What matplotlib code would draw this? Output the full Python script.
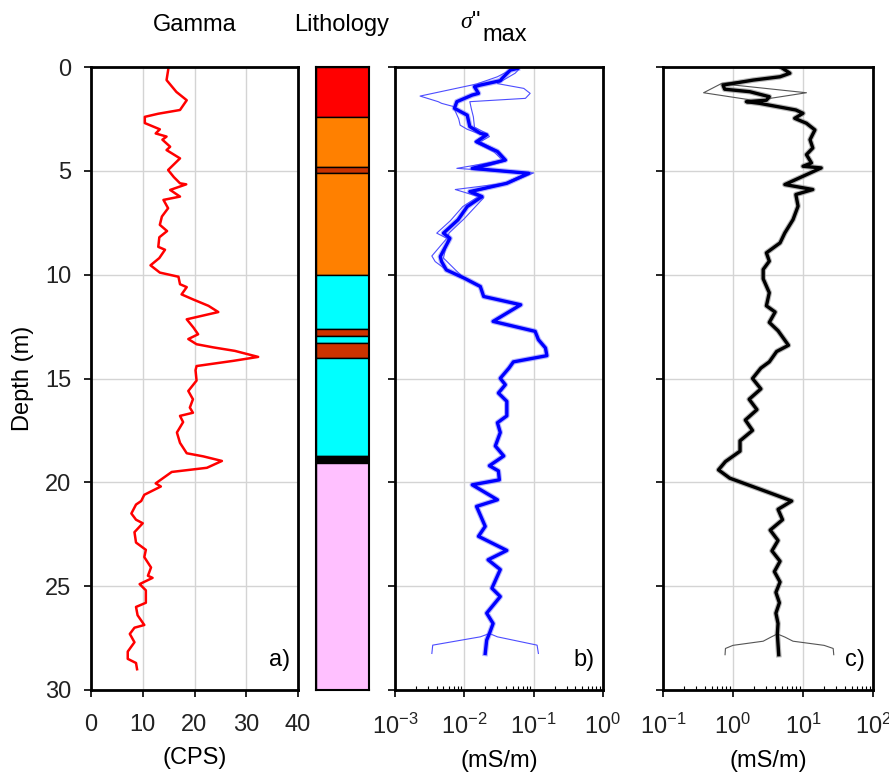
import numpy as np
import matplotlib
matplotlib.use("Agg")
import matplotlib.pyplot as plt
from matplotlib.ticker import LogLocator, NullFormatter, MultipleLocator

plt.rcParams['font.family'] = ['Liberation Sans', 'DejaVu Sans']
plt.rcParams['font.size'] = 17
plt.rcParams['mathtext.fontset'] = 'custom'
plt.rcParams['mathtext.rm'] = 'Liberation Sans'
plt.rcParams['mathtext.it'] = 'Liberation Serif:italic'

# ====== GAMMA LOG (CPS) ======
gamma_depth = [0.0, 0.63, 1.2, 1.6, 2.07, 2.25, 2.4, 2.7, 3.0, 3.2, 3.35, 3.5, 3.84, 4.0,
               4.4, 4.96, 5.3, 5.6, 5.65, 5.92, 6.24, 6.4, 6.8, 7.2, 7.6, 7.9, 8.2, 8.66,
               8.8, 9.2, 9.55, 9.9, 10.1, 10.46, 10.6, 10.95, 11.2, 11.5, 11.8, 12.15,
               12.55, 12.87, 13.1, 13.35, 13.5, 13.67, 13.96, 14.15, 14.4, 14.6, 15.1,
               15.6, 16.0, 16.4, 16.65, 16.8, 17.1, 17.6, 18.1, 18.6, 18.75, 18.97, 19.3,
               19.5, 20.05, 20.2, 20.6, 20.9, 21.07, 21.5, 21.8, 21.97, 22.4, 22.9, 23.25,
               23.6, 24.1, 24.5, 24.6, 24.9, 25.2, 25.8, 26.0, 26.4, 26.87, 27.0, 27.3,
               27.7, 28.15, 28.5, 28.7, 29.0]
gamma_cps = [15.0, 14.6, 16.5, 18.5, 17.2, 13.0, 10.4, 10.4, 13.3, 12.5, 14.6, 13.8, 15.3, 14.6,
             17.2, 14.9, 16.0, 17.2, 18.4, 15.3, 17.2, 14.0, 14.9, 13.7, 13.3, 14.7, 13.2, 13.0,
             14.3, 13.2, 11.5, 13.3, 16.9, 17.2, 18.5, 17.5, 19.8, 22.7, 24.6, 18.5,
             19.8, 20.7, 18.8, 20.4, 23.6, 27.8, 32.3, 27.5, 20.4, 20.2, 20.4,
             18.8, 19.7, 19.1, 19.7, 17.2, 17.8, 16.6, 17.2, 18.5, 21.7, 25.3, 22.4,
             15.6, 12.5, 13.5, 10.3, 9.7, 8.7, 7.8, 8.7, 10.0, 8.4, 8.7, 10.6,
             10.3, 11.6, 11.0, 11.9, 9.4, 10.6, 10.6, 8.7, 9.0, 10.3, 8.4, 7.5,
             8.4, 7.1, 7.1, 8.7, 8.9]

# ====== LITHOLOGY ======
litho_top = [0.0, 2.4, 4.8, 5.1, 10.0, 12.6, 12.95, 13.3, 14.0, 18.75, 19.05]
litho_bottom = [2.4, 4.8, 5.1, 10.0, 12.6, 12.95, 13.3, 14.0, 18.75, 19.05, 30.0]
litho_color = ["#ff0000", "#ff8000", "#c83200", "#ff8000", "#00ffff", "#cc3300",
               "#00ffff", "#cc3300", "#00ffff", "#000000", "#ffc0ff"]

# ====== SIGMA'' MAX (mS/m) ======
sig_depth = [0.07, 0.15, 0.55, 0.66, 0.87, 0.95, 1.27, 1.35, 1.67, 1.99, 2.32, 2.87, 3.19,
             3.27, 3.6, 4.07, 4.48, 4.88, 5.12, 5.6, 6.0, 6.24, 6.72, 7.36, 8.0, 8.25,
             9.13, 9.37, 9.77, 10.17, 10.57, 11.05, 11.45, 12.25, 12.73, 13.13, 13.53,
             13.9, 14.2, 14.5, 14.99, 15.3, 15.7, 16.1, 16.8, 17.13, 17.6, 18.25, 18.73,
             19.2, 19.45, 19.88, 20.12, 20.84, 21.16, 22.12, 22.6, 23.28, 23.73, 24.2,
             25.1, 25.5, 26.3, 26.8, 27.28, 27.6, 28.24]
sig_mean = [0.058, 0.046, 0.035, 0.033, 0.017, 0.014, 0.016, 0.013, 0.0078, 0.0072, 0.011,
            0.012, 0.017, 0.021, 0.015, 0.030, 0.039, 0.013, 0.085, 0.041, 0.012, 0.018,
            0.011, 0.0081, 0.0050, 0.0062, 0.0045, 0.0047, 0.0055, 0.010, 0.017, 0.019,
            0.065, 0.026, 0.105, 0.117, 0.148, 0.155, 0.051, 0.044, 0.033, 0.039, 0.031,
            0.041, 0.041, 0.030, 0.033, 0.028, 0.037, 0.023, 0.031, 0.032, 0.013, 0.030,
            0.015, 0.020, 0.016, 0.041, 0.022, 0.033, 0.025, 0.033, 0.021, 0.026, 0.023,
            0.021, 0.020]

# thin realisations where they split from the mean (top and bottom)
sig_low_top_depth = [0.07, 0.47, 0.82, 1.40, 1.67, 1.75, 1.9, 2.5, 2.8, 3.0, 3.3, 3.6, 4.1,
                     4.5, 4.88, 5.12, 5.6, 5.9, 6.24, 6.72, 7.4, 8.0, 8.25, 9.1, 9.37, 9.77]
sig_low_top = [0.051, 0.030, 0.015, 0.0023, 0.0042, 0.0047, 0.0069, 0.0083, 0.0087, 0.011,
               0.019, 0.014, 0.027, 0.036, 0.0078, 0.079, 0.038, 0.0074, 0.016, 0.0095,
               0.0063, 0.0040, 0.0056, 0.0034, 0.0038, 0.0055]
sig_up_top_depth = [0.07, 0.3, 0.8, 1.03, 1.27, 1.51, 1.67, 2.0, 2.4, 2.9, 3.2, 3.35, 3.6,
                    4.1, 4.5, 4.9, 5.1, 5.6, 6.0, 6.3, 7.3, 8.0, 9.2, 9.8]
sig_up_top = [0.063, 0.054, 0.030, 0.072, 0.089, 0.076, 0.012, 0.0126, 0.0135, 0.014, 0.021,
              0.023, 0.017, 0.032, 0.041, 0.016, 0.10, 0.043, 0.014, 0.019, 0.010, 0.0060,
              0.0050, 0.0076]
sig_flare_depth = [27.28, 27.44, 27.84, 28.24]
sig_low_flare = [0.023, 0.017, 0.0035, 0.0034]
sig_up_flare = [0.023, 0.030, 0.112, 0.117]

# ====== PANEL C (mS/m) ======
c_depth = [0.02, 0.3, 0.47, 0.63, 0.87, 1.07, 1.19, 1.43, 1.6, 1.67, 1.75, 2.07, 2.23,
           2.47, 2.71, 3.03, 3.5, 3.9, 4.22, 4.62, 4.78, 4.86, 5.66, 5.9, 6.14, 6.7,
           7.35, 7.99, 8.47, 8.95, 9.35, 9.75, 10.2, 10.87, 11.5, 11.8, 12.3, 12.7,
           13.4, 13.7, 14.2, 14.5, 15.0, 15.5, 16.0, 16.5, 17.0, 17.5, 18.0, 18.5,
           19.0, 19.4, 19.8, 20.2, 20.6, 20.9, 21.3, 21.8, 22.3, 22.8, 23.3, 23.8,
           24.3, 24.8, 25.3, 25.8, 26.3, 26.8, 27.3, 28.3]
c_mean = [4.9, 6.5, 4.7, 1.95, 0.72, 0.76, 1.74, 3.3, 3.0, 1.55, 2.4, 7.9, 10.0,
          7.6, 11.2, 14.8, 12.6, 13.8, 11.2, 13.2, 10.0, 18.2, 5.5, 13.8, 7.9, 8.5,
          7.2, 5.5, 4.7, 3.0, 3.3, 2.7, 2.7, 3.3, 3.0, 4.0, 3.3, 4.4,
          6.2, 4.2, 3.3, 2.5, 1.9, 2.5, 1.7, 2.2, 1.5, 1.9, 1.26, 1.26,
          0.78, 0.62, 0.9, 1.9, 4.0, 6.9, 4.4, 5.1, 3.4, 4.4, 3.6, 4.7,
          3.9, 4.7, 4.1, 4.6, 4.1, 4.4, 4.3, 4.5]
c_low_top_depth = [0.02, 0.3, 0.47, 0.63, 0.79, 1.24, 1.56, 1.75]
c_low_top = [4.9, 6.5, 4.7, 1.95, 0.69, 0.38, 1.6, 2.4]
c_up_top_depth = [0.02, 0.3, 0.47, 0.63, 0.85, 1.24, 1.51, 1.6, 1.67, 1.75]
c_up_top = [4.9, 6.5, 4.7, 1.95, 0.91, 11.2, 3.4, 3.0, 1.55, 2.4]
c_flare_depth = [27.3, 27.45, 27.65, 27.85, 28.0, 28.3]
c_low_flare = [4.3, 3.5, 2.7, 1.0, 0.78, 0.77]
c_up_flare = [4.3, 5.5, 7.2, 20.0, 27.0, 27.5]


def join(top_d, top_v, mid_d, mid_v, bot_d, bot_v):
    # thin realisation = read top part + mean in the middle + read bottom flare
    d0, d1 = top_d[-1], bot_d[0]
    md = [d for d in mid_d if d0 < d < d1]
    mv = [v for d, v in zip(mid_d, mid_v) if d0 < d < d1]
    return list(top_d) + md + list(bot_d), list(top_v) + mv + list(bot_v)


W, H = 889, 778
fig = plt.figure(figsize=(W / 100, H / 100), dpi=100)

ybot, ytop = 1 - 690 / H, 1 - 67 / H
hh = ytop - ybot
ax_a = fig.add_axes([91 / W, ybot, 207 / W, hh])
ax_l = fig.add_axes([316 / W, ybot, 53 / W, hh])
ax_b = fig.add_axes([395 / W, ybot, 208 / W, hh])
ax_c = fig.add_axes([663 / W, ybot, 210 / W, hh])

grid_kw = dict(color="#d4d4d4", linewidth=1.0)
txt_col = "#222222"

for ax in (ax_a, ax_b, ax_c):
    ax.set_ylim(30, 0)
    ax.yaxis.set_major_locator(MultipleLocator(5))
    ax.grid(True, which="major", **grid_kw)
    ax.set_axisbelow(True)
    for s in ax.spines.values():
        s.set_linewidth(2.0)
    ax.tick_params(axis="both", which="major", direction="out", length=5, width=1.2,
                   labelcolor=txt_col, pad=9)
    ax.tick_params(axis="x", which="major", pad=12)

# ---- panel a ----
ax_a.plot(gamma_cps, gamma_depth, color="#ff0000", linewidth=1.8)
ax_a.set_xlim(0, 40)
ax_a.xaxis.set_major_locator(MultipleLocator(10))
ax_a.set_xlabel("(CPS)", labelpad=8)
ax_a.set_ylabel("Depth (m)", labelpad=8)
ax_a.text(0.96, 0.03, "a)", transform=ax_a.transAxes, ha="right", va="bottom")

# ---- lithology ----
for top, bot, col in zip(litho_top, litho_bottom, litho_color):
    ax_l.axhspan(top, bot, facecolor=col, edgecolor="black", linewidth=1.0)
ax_l.set_ylim(30, 0)
ax_l.set_xlim(0, 1)
ax_l.set_xticks([])
ax_l.set_yticks([])
for s in ax_l.spines.values():
    s.set_linewidth(1.5)

# ---- panel b ----
ax_b.set_xscale("log")
ax_b.set_xlim(1e-3, 1)
lo_d, lo_v = join(sig_low_top_depth, sig_low_top, sig_depth, sig_mean, sig_flare_depth, sig_low_flare)
up_d, up_v = join(sig_up_top_depth, sig_up_top, sig_depth, sig_mean, sig_flare_depth, sig_up_flare)
ax_b.plot(sig_mean, sig_depth, color="#6f6fff", linewidth=4.0, alpha=0.5)
ax_b.plot(lo_v, lo_d, color="#4d4dff", linewidth=0.8)
ax_b.plot(up_v, up_d, color="#4d4dff", linewidth=0.8)
ax_b.plot(sig_mean, sig_depth, color="#0000ff", linewidth=2.4)
ax_b.set_xlabel("(mS/m)", labelpad=8)
ax_b.text(0.96, 0.03, "b)", transform=ax_b.transAxes, ha="right", va="bottom")

# ---- panel c ----
ax_c.set_xscale("log")
ax_c.set_xlim(0.1, 100)
lo_d, lo_v = join(c_low_top_depth, c_low_top, c_depth, c_mean, c_flare_depth, c_low_flare)
up_d, up_v = join(c_up_top_depth, c_up_top, c_depth, c_mean, c_flare_depth, c_up_flare)
ax_c.plot(c_mean, c_depth, color="#888888", linewidth=4.0, alpha=0.6)
ax_c.plot(lo_v, lo_d, color="#555555", linewidth=0.8)
ax_c.plot(up_v, up_d, color="#555555", linewidth=0.8)
ax_c.plot(c_mean, c_depth, color="#000000", linewidth=2.4)
ax_c.set_xlabel("(mS/m)", labelpad=8)
ax_c.text(0.96, 0.03, "c)", transform=ax_c.transAxes, ha="right", va="bottom")

for ax in (ax_b, ax_c):
    ax.xaxis.set_major_locator(LogLocator(base=10, numticks=10))
    ax.xaxis.set_minor_locator(LogLocator(base=10, subs=np.arange(2, 10), numticks=20))
    ax.xaxis.set_minor_formatter(NullFormatter())
    ax.tick_params(axis="x", which="minor", direction="in", length=3, width=0.8)
    ax.tick_params(axis="y", which="major", labelleft=False)
    ax.grid(False, which="minor")

# ---- headers ----
yt = 1 - 25 / H
fig.text(195 / W, yt, "Gamma", ha="center", va="center")
fig.text(342 / W, yt, "Lithology", ha="center", va="center")
fig.text(481 / W, 1 - 22 / H, r'$\sigma$"', ha="right", va="center")
fig.text(482 / W, 1 - 35 / H, "max", ha="left", va="center")

fig.savefig("out.png", dpi=100)
